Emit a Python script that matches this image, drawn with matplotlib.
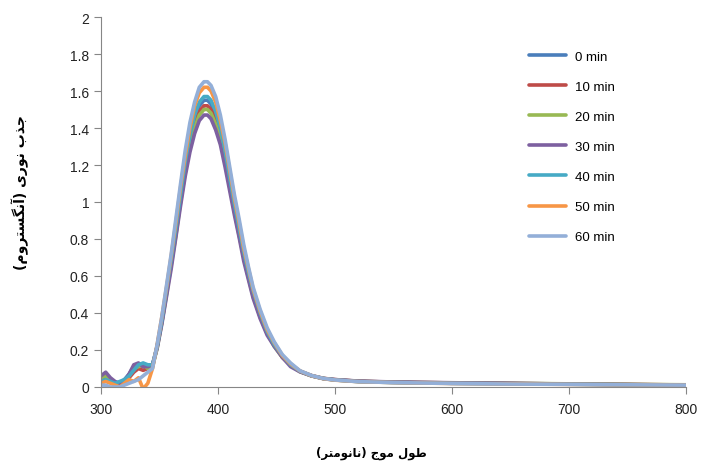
import matplotlib.pyplot as plt

# wavelength grid (nm) shared by all the spectra
wavelength = [300, 304, 308, 312, 316, 320, 324, 328, 332, 336, 340, 344,
              348, 352, 356, 360, 364, 368, 372, 376, 380, 384, 388, 391,
              394, 398, 402, 406, 410, 414, 418, 422, 426, 430, 436, 442,
              448, 455, 462, 470, 480, 490, 500, 520, 550, 600, 650, 700,
              750, 800]

# absorbance for each irradiation time
abs_0 = [0.04, 0.05, 0.03, 0.02, 0.02, 0.04, 0.07, 0.11, 0.12, 0.11, 0.11, 0.12,
         0.22, 0.36, 0.52, 0.68, 0.85, 1.03, 1.20, 1.34, 1.45, 1.52, 1.55, 1.55,
         1.53, 1.47, 1.38, 1.26, 1.12, 0.98, 0.85, 0.72, 0.61, 0.51, 0.39, 0.30,
         0.23, 0.165, 0.12, 0.085, 0.06, 0.045, 0.038, 0.030, 0.025, 0.020, 0.018, 0.015,
         0.013, 0.010]
abs_10 = [0.03, 0.04, 0.04, 0.02, 0.01, 0.03, 0.05, 0.08, 0.10, 0.09, 0.10, 0.11,
          0.22, 0.35, 0.51, 0.67, 0.83, 1.01, 1.18, 1.31, 1.42, 1.49, 1.52, 1.52,
          1.50, 1.44, 1.35, 1.23, 1.10, 0.96, 0.83, 0.71, 0.60, 0.50, 0.38, 0.29,
          0.23, 0.16, 0.12, 0.085, 0.062, 0.047, 0.040, 0.031, 0.026, 0.022, 0.019, 0.016,
          0.014, 0.011]
abs_20 = [0.05, 0.06, 0.03, 0.02, 0.02, 0.03, 0.06, 0.10, 0.11, 0.12, 0.10, 0.11,
          0.21, 0.35, 0.50, 0.66, 0.82, 1.00, 1.16, 1.30, 1.40, 1.47, 1.50, 1.50,
          1.48, 1.42, 1.34, 1.22, 1.08, 0.95, 0.82, 0.70, 0.59, 0.49, 0.38, 0.29,
          0.22, 0.16, 0.12, 0.083, 0.060, 0.046, 0.039, 0.031, 0.026, 0.022, 0.020, 0.017,
          0.014, 0.012]
abs_30 = [0.06, 0.08, 0.05, 0.03, 0.02, 0.03, 0.07, 0.12, 0.13, 0.11, 0.11, 0.12,
          0.21, 0.34, 0.49, 0.64, 0.81, 0.98, 1.14, 1.27, 1.37, 1.44, 1.47, 1.47,
          1.45, 1.39, 1.31, 1.19, 1.06, 0.93, 0.81, 0.68, 0.58, 0.48, 0.37, 0.28,
          0.22, 0.16, 0.11, 0.082, 0.060, 0.046, 0.040, 0.032, 0.027, 0.023, 0.020, 0.016,
          0.013, 0.011]
abs_40 = [0.03, 0.04, 0.03, 0.02, 0.03, 0.04, 0.06, 0.09, 0.12, 0.13, 0.12, 0.12,
          0.22, 0.36, 0.53, 0.69, 0.86, 1.04, 1.22, 1.36, 1.47, 1.54, 1.57, 1.57,
          1.55, 1.49, 1.40, 1.28, 1.13, 0.99, 0.86, 0.73, 0.62, 0.52, 0.40, 0.30,
          0.23, 0.17, 0.12, 0.086, 0.061, 0.046, 0.038, 0.029, 0.024, 0.020, 0.017, 0.015,
          0.012, 0.010]
abs_50 = [0.02, 0.03, 0.02, 0.01, 0.00, 0.02, 0.04, 0.03, 0.05, -0.01, 0.02, 0.10,
          0.23, 0.38, 0.54, 0.71, 0.89, 1.08, 1.25, 1.40, 1.52, 1.59, 1.62, 1.62,
          1.60, 1.54, 1.44, 1.32, 1.17, 1.02, 0.89, 0.75, 0.64, 0.53, 0.41, 0.31,
          0.24, 0.17, 0.125, 0.087, 0.061, 0.045, 0.037, 0.029, 0.024, 0.019, 0.017, 0.014,
          0.012, 0.010]
abs_60 = [0.01, 0.01, 0.00, 0.00, 0.00, 0.01, 0.02, 0.03, 0.04, 0.06, 0.08, 0.10,
          0.23, 0.38, 0.55, 0.72, 0.91, 1.10, 1.28, 1.43, 1.54, 1.62, 1.65, 1.65,
          1.63, 1.57, 1.47, 1.34, 1.19, 1.04, 0.91, 0.77, 0.65, 0.54, 0.42, 0.32,
          0.245, 0.175, 0.13, 0.088, 0.062, 0.046, 0.038, 0.029, 0.024, 0.019, 0.016, 0.014,
          0.012, 0.010]

series = [abs_0, abs_10, abs_20, abs_30, abs_40, abs_50, abs_60]
labels = ['0 min', '10 min', '20 min', '30 min', '40 min', '50 min', '60 min']
colors = ['#4A7EBB', '#BE4B48', '#98B954', '#7D60A0', '#46AAC5', '#F79646', '#93AFD8']

# Persian axis titles, written in visual order with Arabic presentation forms
x_title = ('(\uFEAE\uFE98\uFEE3\uFEEE\uFEE7\uFE8E\uFEE7) '
           '\uFE9D\uFEEE\uFEE3 \uFEDD\uFEEE\uFEC3')
y_title = ('(\uFEE1\uFEED\uFEAE\uFE98\uFEB4\uFB95\uFEE7\uFE81) '
           '\uFEEF\uFEAD\uFEEE\uFEE7 \uFE8F\uFEAC\uFE9F')

plt.rcParams['font.family'] = ['Liberation Sans', 'DejaVu Sans']

fig = plt.figure(figsize=(7.03, 4.64), dpi=100)
ax = fig.add_axes([0.1437, 0.1638, 0.8321, 0.7974])

for y, lab, c in zip(series, labels, colors):
    ax.plot(wavelength, y, color=c, lw=2.6, label=lab, solid_capstyle='round')

ax.set_xlim(300, 800)
ax.set_ylim(0, 2)
ax.set_xticks(range(300, 801, 100))
ax.set_yticks([i / 10 for i in range(0, 21, 2)])
ax.set_yticklabels(['0', '0.2', '0.4', '0.6', '0.8', '1', '1.2', '1.4', '1.6', '1.8', '2'])

for side in ['top', 'right']:
    ax.spines[side].set_visible(False)
for side in ['left', 'bottom']:
    ax.spines[side].set_color('#868686')
ax.tick_params(colors='#868686', labelcolor='#222222', labelsize=10, length=5)
ax.tick_params(axis='x', pad=6)

fig.text(0.528, 0.022, x_title, family='DejaVu Sans', weight='bold',
         fontsize=8.5, ha='center', va='center')
fig.text(0.029, 0.586, y_title, family='DejaVu Sans', weight='bold',
         fontsize=10, ha='center', va='center', rotation=90)

ax.legend(loc='upper left', bbox_to_anchor=(0.745, 0.9), bbox_transform=fig.transFigure,
          frameon=False, fontsize=9.5, labelspacing=1.35, handlelength=2.8,
          handletextpad=0.7, borderaxespad=0)

fig.savefig('out.png', dpi=100)
